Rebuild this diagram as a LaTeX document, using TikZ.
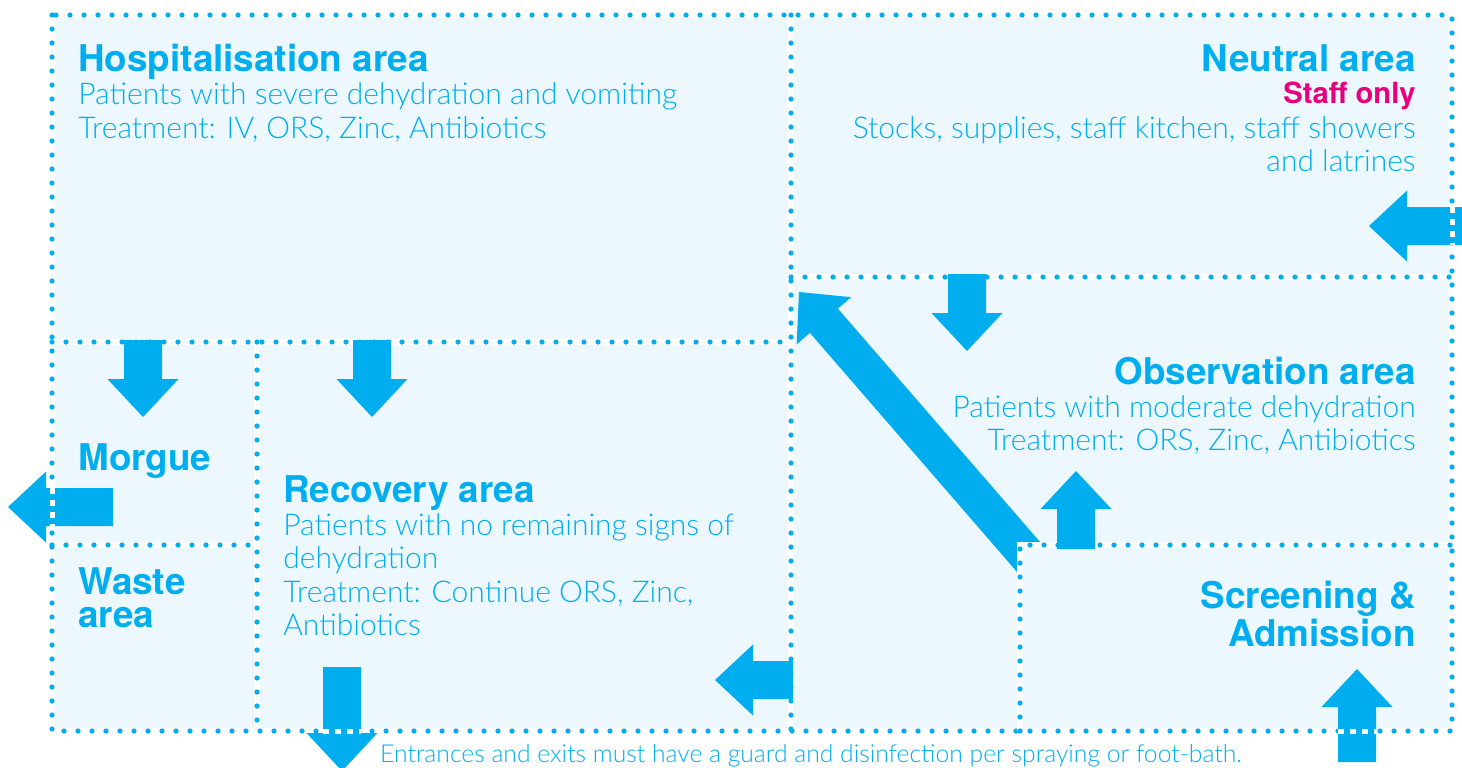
\documentclass[tikz,border=0pt]{standalone}
\usepackage{fontspec}
\setmainfont{TeX Gyre Heros}
\newfontfamily\lightsf{Lato Light}
\usetikzlibrary{calc}
\definecolor{cyanink}{HTML}{00AEEF}
\definecolor{roomfill}{HTML}{ECF8FE}
\definecolor{staffpink}{HTML}{E6007E}
\newcommand{\ttlfont}{\fontsize{18.4}{16.5}\selectfont\bfseries}
\newcommand{\bdyfont}{\lightsf\fontsize{15}{18}\selectfont}
\newcommand{\ftfont}{\lightsf\fontsize{12.35}{14}\selectfont}

\begin{document}
\begin{tikzpicture}[x=0.5pt, y=-0.5pt,
  wall/.style={draw=cyanink, line width=2.6pt, line cap=round, dash pattern=on 0pt off 7pt},
  gap/.style={draw=white, line width=3pt},
  blk/.style={fill=cyanink},
  door/.style={draw=white, line width=2.5pt, dash pattern=on 3pt off 3pt},
  ttl/.style={font=\ttlfont, text=cyanink, inner sep=0pt},
  bdy/.style={font=\bdyfont, text=cyanink, inner sep=0pt}]
\useasboundingbox (0,0) rectangle (1462,767);
% rooms and walls
\fill[roomfill] (52,15) rectangle (1452,731);
\foreach \xa/\ya/\xb/\yb in {791/15/791/731, 52/342/791/342, 791/277/1452/277, 257/342/257/731, 52/545/257/545}
  \draw[gap] (\xa,\ya) -- (\xb,\yb);
\draw[gap] (52,15) rectangle (1452,731);
\foreach \xa/\ya/\xb/\yb in {791/15/791/731, 52/342/791/342, 791/277/1452/277, 257/342/257/731, 52/545/257/545}
  \draw[wall] (\xa,\ya) -- (\xb,\yb);
\draw[wall] (52,15) rectangle (1452,731);
% way back from screening
\fill[blk, shift={(799,292)}, rotate=130.9] (0,0) -- (-38,36) -- (-38,18.5) -- (-380,18.5) -- (-380,-18.5) -- (-38,-18.5) -- (-38,-36) -- cycle;
% screening room on top
\fill[roomfill] (1023,548) rectangle (1449,728);
\draw[gap] (1020,731) -- (1020,545) -- (1452,545);
\draw[wall] (1020,731) -- (1020,545) -- (1452,545);
% flow arrows: tip x / tip y / direction / length
\foreach \x/\y/\r/\l in {1369/226/180/93, 967/351/-90/77, 1076/471/90/78, 1357/669/90/93,
    143/417/-90/77, 372/417/-90/77, 8/507/180/105, 715/680/180/78, 342/771/-90/104}
  \fill[blk, shift={(\x,\y)}, rotate=\r] (0,0) -- (-38,35.5) -- (-38,19) -- (-\l,19) -- (-\l,-19) -- (-38,-19) -- (-38,-35.5) -- cycle;
% guarded doors
\draw[door] (1452,207) -- (1452,245);
\draw[door] (52,488) -- (52,526);
\draw[door] (323,731) -- (361,731);
\draw[door] (1338,731) -- (1376,731);
% labels
\node[ttl, anchor=base west] (hosp) at (78,71) {Hospitalisation area};
\foreach \t [count=\i] in {Patients with severe dehydration and vomiting, {Treatment: IV, ORS, Zinc, Antibiotics}}
  \node[bdy, anchor=base west] (hosp\i) at (78,{71+33.5*\i}) {\t};
\node[ttl, anchor=base east] (neut) at (1416,71) {Neutral area};
\node[ttl, font=\fontsize{14.6}{17}\selectfont\bfseries, text=staffpink, anchor=base east] (staff) at (1416,103) {Staff only};
\foreach \t [count=\i] in {{Stocks, supplies, staff kitchen, staff showers}, and latrines}
  \node[bdy, anchor=base east] (neut\i) at (1416,{104.5+33.5*\i}) {\t};
\node[ttl, anchor=base east] (obs) at (1416,384) {Observation area};
\foreach \t [count=\i] in {Patients with moderate dehydration, {Treatment: ORS, Zinc, Antibiotics}}
  \node[bdy, anchor=base east] (obs\i) at (1416,{384+33*\i}) {\t};
\node[ttl, anchor=base west] (morg) at (78,470) {Morgue};
\node[ttl, align=left, anchor=base west] (wst) at (78,627) {Waste\\area};
\node[ttl, anchor=base west] (reco) at (283,502) {Recovery area};
\foreach \t [count=\i] in {Patients with no remaining signs of, dehydration, {Treatment: Continue ORS, Zinc,}, Antibiotics}
  \node[bdy, anchor=base west] (reco\i) at (283,{502+33.4*\i}) {\t};
\node[ttl, align=right, anchor=base east] (scr) at (1416,646) {Screening \&\\Admission};
\node[font=\ftfont, text=cyanink, inner sep=0pt, anchor=base] (rule) at (811,762) {Entrances and exits must have a guard and disinfection per spraying or foot-bath.};
\end{tikzpicture}
\end{document}
